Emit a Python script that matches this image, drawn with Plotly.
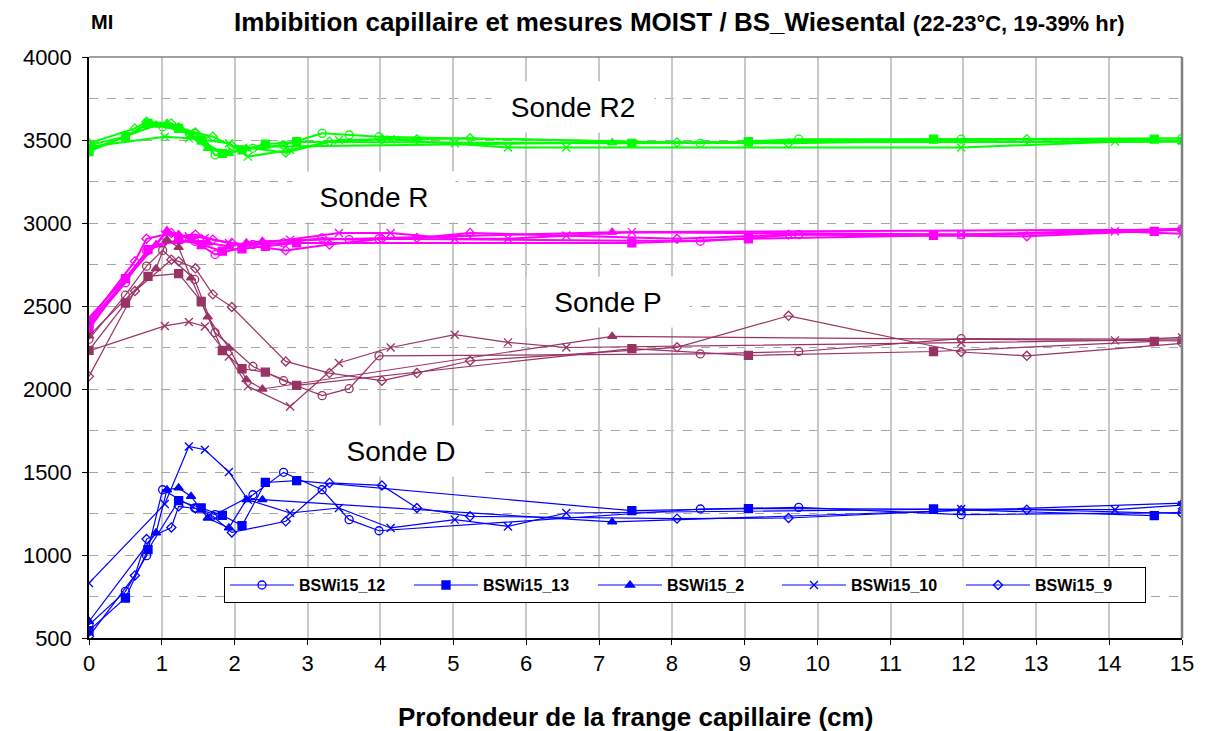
import plotly.graph_objects as go

# Sample names (legend) and marker per sample
samples = ["BSWi15_12", "BSWi15_13", "BSWi15_2", "BSWi15_10", "BSWi15_9"]
symbols = ["circle-open", "square", "triangle-up", "x-thin-open", "diamond-open"]

# Depth of the capillary fringe (cm) for each sample
depth_12 = [0, 0.5, 0.79, 1.01, 1.45, 1.73, 2.25, 2.67, 3.2, 3.57, 3.98, 8.39, 9.74, 11.97, 15]
depth_13 = [0, 0.5, 0.81, 1.23, 1.54, 1.83, 2.10, 2.42, 2.85, 7.45, 9.05, 11.59, 14.62]
depth_2 = [0, 0.92, 1.07, 1.23, 1.40, 1.63, 1.92, 2.16, 2.38, 7.18, 15]
depth_10 = [0, 1.04, 1.37, 1.59, 1.92, 2.18, 2.76, 3.43, 4.14, 5.02, 5.75, 6.55, 7.45, 11.97, 14.08, 15]
depth_9 = [0, 0.63, 0.79, 1.13, 1.23, 1.46, 1.70, 1.96, 2.70, 3.30, 4.02, 4.5, 5.23, 8.07, 9.6, 11.97, 12.87, 15]

# Sonde R2
r2_12 = [3470, 3520, 3590, 3580, 3540, 3410, 3450, 3470, 3540, 3530, 3520, 3480, 3505, 3505, 3510]
r2_13 = [3430, 3520, 3600, 3570, 3500, 3420, 3440, 3475, 3490, 3480, 3490, 3505, 3505]
r2_2 = [3440, 3590, 3600, 3570, 3520, 3450, 3420, 3450, 3460, 3485, 3490]
r2_10 = [3460, 3520, 3510, 3500, 3480, 3400, 3440, 3500, 3505, 3480, 3455, 3455, None, 3455, 3490, 3495]
r2_9 = [3480, 3570, 3610, 3600, 3575, 3545, 3520, 3465, 3425, 3490, 3505, 3505, 3510, 3485, 3480, None, 3505, 3495]

# Sonde R
r_12 = [2380, 2640, 2830, 2880, 2890, 2810, 2870, 2880, 2910, 2900, 2905, 2890, 2930, 2930, 2965]
r_13 = [2360, 2665, 2840, 2900, 2870, 2830, 2845, 2860, 2880, 2880, 2905, 2925, 2950]
r_2 = [2400, 2870, 2955, 2930, 2900, 2880, 2860, 2880, 2890, 2945, 2960]
r_10 = [2430, 2930, 2920, 2910, 2880, 2870, 2900, 2940, 2940, 2905, 2905, 2925, 2945, 2930, 2950, 2935]
r_9 = [2410, 2770, 2905, 2940, 2920, 2930, 2900, 2880, 2835, 2870, 2905, 2910, 2940, 2905, 2930, None, 2920, 2960]

# Sonde P
p_12 = [2300, 2565, 2740, 2835, 2660, 2340, 2136, 2050, 1960, 2002, 2200, 2211, 2226, 2303, 2301]
p_13 = [2233, 2518, 2678, 2695, 2528, 2232, 2122, 2102, 2022, 2243, 2202, 2226, 2287]
p_2 = [2320, 2725, 2899, 2853, 2669, 2434, 2247, 2056, 2000, 2317, 2290]
p_10 = [2230, 2380, 2404, 2377, 2196, 2016, 1895, 2157, 2250, 2327, 2281, 2250, None, 2279, 2293, 2311]
p_9 = [2076, 2590, None, 2779, 2769, 2727, 2570, 2494, 2166, 2096, 2050, 2096, 2170, 2251, 2441, 2223, 2200, 2275]

# Sonde D
d_12 = [580, 781, 996, 1393, 1283, 1243, 1363, 1498, 1393, 1213, 1146, 1277, 1287, 1243, 1255]
d_13 = [545, 741, 1032, 1327, 1283, 1239, 1177, 1437, 1448, 1267, 1279, 1277, 1237]
d_2 = [600, 1133, 1393, 1404, 1353, 1223, 1163, 1333, 1333, 1199, 1313]
d_10 = [831, 1307, 1654, 1634, 1500, 1333, 1253, 1283, 1163, 1213, 1172, 1253, None, 1277, 1273, 1300]
d_9 = [510, 877, 1096, 1166, 1293, 1280, 1233, 1136, 1203, 1434, 1419, 1283, 1233, 1219, 1223, 1270, 1273, 1250]

depths = [depth_12, depth_13, depth_2, depth_10, depth_9]

probes = [
    # name, colour, line width, values per sample, show in legend
    ("R2", "#00FF00", 2.0, [r2_12, r2_13, r2_2, r2_10, r2_9], False),
    ("R", "#FF00FF", 2.0, [r_12, r_13, r_2, r_10, r_9], False),
    ("P", "#993366", 1.2, [p_12, p_13, p_2, p_10, p_9], False),
    ("D", "#0000FF", 1.2, [d_12, d_13, d_2, d_10, d_9], True),
]

FONT = "Liberation Sans, Arial"

fig = go.Figure()

for name, color, lw, values, in_legend in probes:
    for i, sample in enumerate(samples):
        sym = symbols[i]
        size = 8 if sym != "diamond-open" else 7
        fig.add_trace(go.Scatter(
            x=depths[i], y=values[i],
            mode="lines+markers",
            name=sample,
            showlegend=in_legend,
            connectgaps=True,
            line=dict(color=color, width=lw),
            marker=dict(symbol=sym, size=size, color=color,
                        line=dict(color=color, width=1.3)),
        ))

# Probe labels on white boxes
labels = [("Sonde R2", 6.64, 3700), ("Sonde R", 3.91, 3155), ("Sonde P", 7.12, 2527), ("Sonde D", 4.28, 1625)]
for text, lx, ly in labels:
    fig.add_annotation(x=lx, y=ly, text=text, showarrow=False,
                       font=dict(family=FONT, size=28, color="black"),
                       bgcolor="white", width=160, height=48)

# Title and unit label
fig.add_annotation(xref="paper", yref="paper", x=0.0, y=1.0, yshift=35,
                   xanchor="left", yanchor="middle",
                   text="<b>MI</b>", showarrow=False,
                   font=dict(family=FONT, size=20, color="black"))
fig.add_annotation(xref="paper", yref="paper", x=0.131, y=1.0, yshift=35,
                   xanchor="left", yanchor="middle",
                   text="<b>Imbibition capillaire et mesures MOIST / BS_Wiesental "
                        "<span style='font-size:22px'>(22-23°C, 19-39% hr)</span></b>",
                   showarrow=False,
                   font=dict(family=FONT, size=26, color="black"))

# x-axis title
fig.add_annotation(xref="paper", yref="paper", x=0.5, y=0.0, yshift=-79,
                   xanchor="center", yanchor="middle", showarrow=False,
                   text="<b>Profondeur de la frange capillaire (cm)</b>",
                   font=dict(family=FONT, size=26, color="black"))

# Top and right frame lines
fig.add_shape(type="line", xref="paper", yref="paper", x0=0, x1=1, y0=1, y1=1,
              line=dict(color="#808080", width=1.5))
fig.add_shape(type="line", xref="paper", yref="paper", x0=1, x1=1, y0=0, y1=1,
              line=dict(color="#808080", width=2.5))

fig.update_layout(
    width=1206, height=731,
    margin=dict(l=89, r=24, t=57, b=93),
    paper_bgcolor="white", plot_bgcolor="white",
    font=dict(family=FONT, color="black"),
    legend=dict(orientation="h", x=0.1235, y=0.122, xanchor="left", yanchor="top",
                bgcolor="white", bordercolor="black", borderwidth=1,
                font=dict(size=16, color="black", weight="bold"),
                entrywidth=105, entrywidthmode="pixels", itemwidth=64),
    xaxis=dict(range=[0, 15], dtick=1, tick0=0, automargin=False,
               showgrid=True, gridcolor="#C8C8C8", gridwidth=1.5,
               showline=True, linecolor="black", linewidth=2,
               ticks="outside", ticklen=5, tickcolor="black",
               tickfont=dict(size=22), zeroline=False),
    yaxis=dict(range=[500, 4000], tickvals=list(range(500, 4001, 500)),
               automargin=False,
               showgrid=True, gridcolor="#A6A6A6", griddash="dash", gridwidth=1,
               minor=dict(dtick=250, tick0=500, showgrid=True, gridcolor="#A6A6A6",
                          griddash="dash", gridwidth=1),
               showline=True, linecolor="black", linewidth=1.5,
               ticks="outside", ticklen=5, tickcolor="black",
               ticklabelstandoff=6,
               tickfont=dict(size=22), zeroline=False),
)

fig.write_html("out.html")
